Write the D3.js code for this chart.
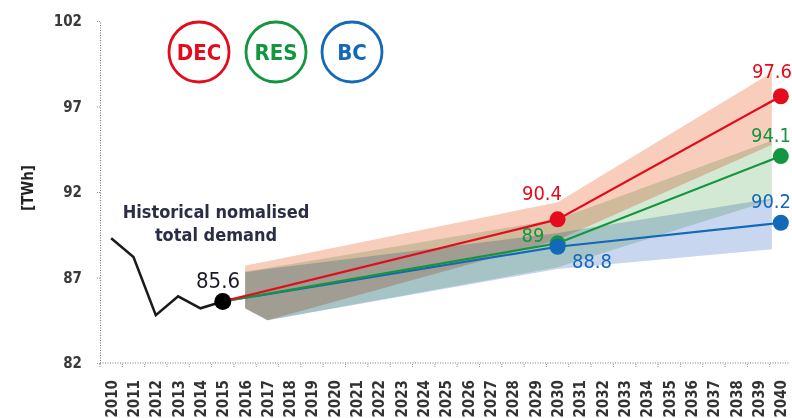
<!DOCTYPE html>
<html>
<head>
<meta charset="utf-8">
<script src="https://cdn.jsdelivr.net/npm/d3@7"></script>
<style>
  body { margin: 0; background: #fff; }
  svg text { font-family: "Liberation Sans Narrow", "Arial Narrow", "DejaVu Sans Condensed", "DejaVu Sans", sans-serif; font-stretch: condensed; }
  .band { mix-blend-mode: multiply; }
</style>
</head>
<body>
<div id="chart"></div>
<script>
// years on the x axis
var years = d3.range(2010, 2041);
var yTicks = [82, 87, 92, 97, 102];

// historical demand
var histYears = [2010, 2011, 2012, 2013, 2014, 2015];
var histValues = [89.3, 88.2, 84.8, 85.9, 85.2, 85.6];

// scenarios
var scenarioNames = ["DEC", "RES", "BC"];
var scenarioColors = ["#e30b1c", "#12963f", "#1468b8"];
var bandColors = ["#f9cdbb", "#d4e9d3", "#c8d6f0"];
var scenarioYears = [2015, 2030, 2040];
var decValues = [85.6, 90.4, 97.6];
var resValues = [85.6, 89, 94.1];
var bcValues = [85.6, 88.8, 90.2];

// uncertainty ranges
var bandYears = [2016, 2017, 2030, 2040];
var decUpper = [87.7, 87.95, 91.4, 99.3];
var decLower = [85.2, 84.5, 89.2, 95.0];
var resUpper = [87.35, 87.55, 90.4, 95.2];
var resLower = [85.2, 84.5, 87.6, 91.7];
var bcUpper = [87.3, 87.5, 89.6, 91.7];
var bcLower = [85.2, 84.5, 87.5, 88.7];

var svgWidth = 792;
var svgHeight = 418;

var svg = d3.select("#chart")
  .append("svg")
  .attr("width", svgWidth)
  .attr("height", svgHeight);

var x = d3.scaleBand()
  .domain(years)
  .range([100, 792])
  .paddingInner(0);
var xc = function(yr) { return x(yr) + x.bandwidth() / 2; };

var y = d3.scaleLinear()
  .domain([82, 102])
  .range([363, 21]);

// Bands
var series = [
  { values: decValues, upper: decUpper, lower: decLower },
  { values: resValues, upper: resUpper, lower: resLower },
  { values: bcValues, upper: bcUpper, lower: bcLower }
];

var area = d3.area()
  .x(d => xc(d.year))
  .y0(d => y(d.lo))
  .y1(d => y(d.hi));

// bands stop just short of the end dots
svg.append("clipPath")
  .attr("id", "bandClip")
  .append("rect")
  .attr("x", 100)
  .attr("y", 0)
  .attr("width", xc(2040) - 9 - 100)
  .attr("height", 363);

var bandGroup = svg.append("g")
  .attr("clip-path", "url(#bandClip)")
  .style("isolation", "isolate");
series.forEach(function(s, i) {
  var pts = bandYears.map((yr, j) => ({ year: yr, lo: s.lower[j], hi: s.upper[j] }));
  bandGroup.append("path")
    .attr("class", "band")
    .attr("d", area(pts))
    .attr("fill", bandColors[i]);
});

// Axes
var xAxis = svg.append("g")
  .attr("transform", "translate(0,363)")
  .call(d3.axisBottom(x).tickSize(5).tickSizeOuter(0));
xAxis.select(".domain")
  .attr("d", "M100,0H790")
  .attr("stroke", "#777")
  .attr("stroke-dasharray", "1,1.5");
xAxis.selectAll(".tick line")
  .attr("x1", -x.bandwidth() / 2)
  .attr("x2", -x.bandwidth() / 2)
  .attr("y1", 1)
  .attr("stroke", "#999")
  .attr("stroke-dasharray", "1,1");
xAxis.selectAll(".tick text")
  .attr("transform", "rotate(-90)")
  .attr("x", -17)
  .attr("y", 0)
  .attr("dy", "0.36em")
  .style("text-anchor", "end")
  .attr("fill", "#333")
  .attr("font-size", "15px")
  .attr("font-weight", "bold");

var yAxis = svg.append("g")
  .attr("transform", "translate(100,0)")
  .call(d3.axisLeft(y).tickValues(yTicks).tickSize(4).tickPadding(14).tickSizeOuter(0));
yAxis.select(".domain")
  .attr("stroke", "#777")
  .attr("stroke-dasharray", "1,1.5");
yAxis.selectAll(".tick line")
  .attr("stroke", "#999")
  .attr("stroke-dasharray", "1,1");
yAxis.selectAll(".tick text")
  .attr("fill", "#3a3a3a")
  .attr("font-size", "15px")
  .attr("font-weight", "bold");

svg.append("text")
  .attr("transform", "translate(33,188) rotate(-90)")
  .attr("text-anchor", "middle")
  .attr("font-size", "15px")
  .attr("font-weight", "bold")
  .attr("fill", "#222")
  .text("[TWh]");

// Historical line
var line = d3.line()
  .x(d => xc(d[0]))
  .y(d => y(d[1]));

svg.append("path")
  .attr("d", line(histYears.map((yr, i) => [yr, histValues[i]])))
  .attr("fill", "none")
  .attr("stroke", "#1a1a1a")
  .attr("stroke-width", 2.5);

// Scenario lines
series.slice().reverse().forEach(function(s, k) {
  var i = series.length - 1 - k;
  svg.append("path")
    .attr("d", line(scenarioYears.map((yr, j) => [yr, s.values[j]])))
    .attr("fill", "none")
    .attr("stroke", scenarioColors[i])
    .attr("stroke-width", 2.2);
});

// Dots
series.forEach(function(s, i) {
  svg.selectAll(null)
    .data(scenarioYears.slice(1).map((yr, j) => [yr, s.values[j + 1]]))
    .enter()
    .append("circle")
    .attr("cx", d => xc(d[0]))
    .attr("cy", d => y(d[1]))
    .attr("r", 8)
    .attr("fill", scenarioColors[i]);
});

svg.append("circle")
  .attr("cx", xc(2015))
  .attr("cy", y(histValues[histValues.length - 1]))
  .attr("r", 8.5)
  .attr("fill", "#000");

// Value labels
svg.append("text")
  .attr("x", 218).attr("y", 288)
  .attr("text-anchor", "middle")
  .attr("font-size", "22px")
  .attr("fill", "#1c1c28")
  .text(histValues[histValues.length - 1]);

var labelPos = [
  [[542, 200], [772, 78]],
  [[533, 242], [771, 142]],
  [[592, 268], [771, 208]]
];
series.forEach(function(s, i) {
  s.values.slice(1).forEach(function(v, j) {
    svg.append("text")
      .attr("x", labelPos[i][j][0])
      .attr("y", labelPos[i][j][1])
      .attr("text-anchor", "middle")
      .attr("font-size", "20px")
      .attr("fill", scenarioColors[i])
      .text(v);
  });
});

// Annotation
var note = svg.append("text")
  .attr("text-anchor", "middle")
  .attr("font-size", "18px")
  .attr("font-weight", "bold")
  .attr("fill", "#2b2d45");
note.append("tspan").attr("x", 216).attr("y", 218).text("Historical nomalised");
note.append("tspan").attr("x", 216).attr("y", 241).text("total demand");

// Legend circles
var legendX = [199, 276, 352];
scenarioNames.forEach(function(name, i) {
  svg.append("circle")
    .attr("cx", legendX[i])
    .attr("cy", 52)
    .attr("r", 30)
    .attr("fill", "#fff")
    .attr("stroke", scenarioColors[i])
    .attr("stroke-width", 2.8);
  svg.append("text")
    .attr("x", legendX[i])
    .attr("y", 60)
    .attr("text-anchor", "middle")
    .attr("font-size", "22px")
    .attr("font-weight", "bold")
    .attr("fill", scenarioColors[i])
    .text(name);
});
</script>
</body>
</html>
